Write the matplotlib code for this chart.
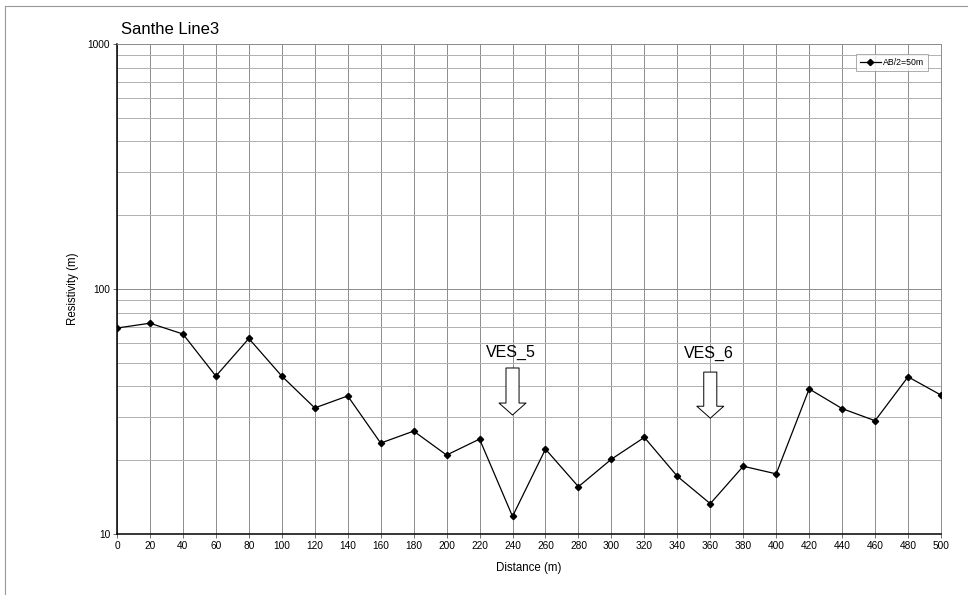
import numpy as np
import matplotlib.pyplot as plt
from matplotlib.ticker import LogLocator, NullFormatter

# Data
distance = [0, 20, 40, 60, 80, 100, 120, 140, 160, 180, 200, 220, 240, 260,
            280, 300, 320, 340, 360, 380, 400, 420, 440, 460, 480, 500]
resistivity = [69.3, 72.5, 65.5, 44.1, 62.8, 44.1, 32.7, 36.6, 23.5, 26.3,
               21.0, 24.4, 11.8, 22.2, 15.6, 20.2, 24.8, 17.2, 13.3, 18.9,
               17.6, 39.1, 32.5, 29.0, 43.8, 36.9]
series_label = 'AB/2=50m'

# VES markers
ves_pos = [240, 360]
ves_names = ['VES_5', 'VES_6']
ves_top = [47.6, 45.8]
ves_tip = [30.6, 29.7]
ves_text_y = [55.3, 54.4]

plt.rcParams['font.family'] = ['Liberation Sans', 'DejaVu Sans']

fig = plt.figure(figsize=(9.68, 5.95), dpi=100)
ax = fig.add_axes([117 / 968, 1 - 534 / 595, (941 - 117) / 968, (534 - 44) / 595])

ax.plot(distance, resistivity, color='black', lw=0.9, marker='D',
        markersize=3.2, label=series_label, zorder=3)

ax.set_yscale('log')
ax.set_xlim(0, 500)
ax.set_ylim(10, 1000)
ax.set_xticks(np.arange(0, 501, 20))
ax.set_yticks([10, 100, 1000])
ax.set_yticklabels(['10', '100', '1000'])
ax.yaxis.set_minor_locator(LogLocator(base=10, subs=np.arange(2, 10)))
ax.yaxis.set_minor_formatter(NullFormatter())
ax.tick_params(axis='y', which='minor', length=0)
ax.tick_params(axis='both', which='major', labelsize=7.3, length=3, width=0.6,
               color='#555555', pad=2)

ax.grid(True, which='major', axis='both', color='#8c8c8c', lw=0.7)
ax.grid(True, which='minor', axis='y', color='#b0b0b0', lw=0.7)
ax.set_axisbelow(True)

for s in ['top', 'right']:
    ax.spines[s].set_color('#8c8c8c')
    ax.spines[s].set_linewidth(0.7)
for s in ['left', 'bottom']:
    ax.spines[s].set_color('black')
    ax.spines[s].set_linewidth(1.1)

ax.set_xlabel('Distance (m)', fontsize=8.3, labelpad=8)
ax.set_ylabel('Resistivity (m)', fontsize=8.3, labelpad=6)

fig.text(121 / 968, 1 - 30 / 595, 'Santhe Line3', fontsize=12, va='center', ha='left')

# VES arrows and labels
for xp, name, top, tip, ty in zip(ves_pos, ves_names, ves_top, ves_tip, ves_text_y):
    ax.annotate('', xy=(xp, tip), xytext=(xp, top),
                arrowprops=dict(arrowstyle='simple,head_length=0.86,head_width=1.94,tail_width=0.94',
                                mutation_scale=10, fc='white', ec='black', lw=0.7,
                                shrinkA=0, shrinkB=0), zorder=4)
    ax.text(xp - 1, ty, name, fontsize=11.5, ha='center', va='center', zorder=4)

leg = ax.legend(loc='upper right', fontsize=6.3, frameon=True, fancybox=False,
                handlelength=2.4, handletextpad=0.3, borderpad=0.45,
                bbox_to_anchor=(0.99, 0.988))
leg.get_frame().set_edgecolor('#888888')
leg.get_frame().set_linewidth(0.6)

# outer chart border
fig.add_artist(plt.Line2D([5 / 968, 5 / 968], [0, 1 - 6 / 595], color='#999999', lw=0.8))
fig.add_artist(plt.Line2D([5 / 968, 1], [1 - 6 / 595, 1 - 6 / 595], color='#999999', lw=0.8))

fig.savefig('out.png', dpi=100)
